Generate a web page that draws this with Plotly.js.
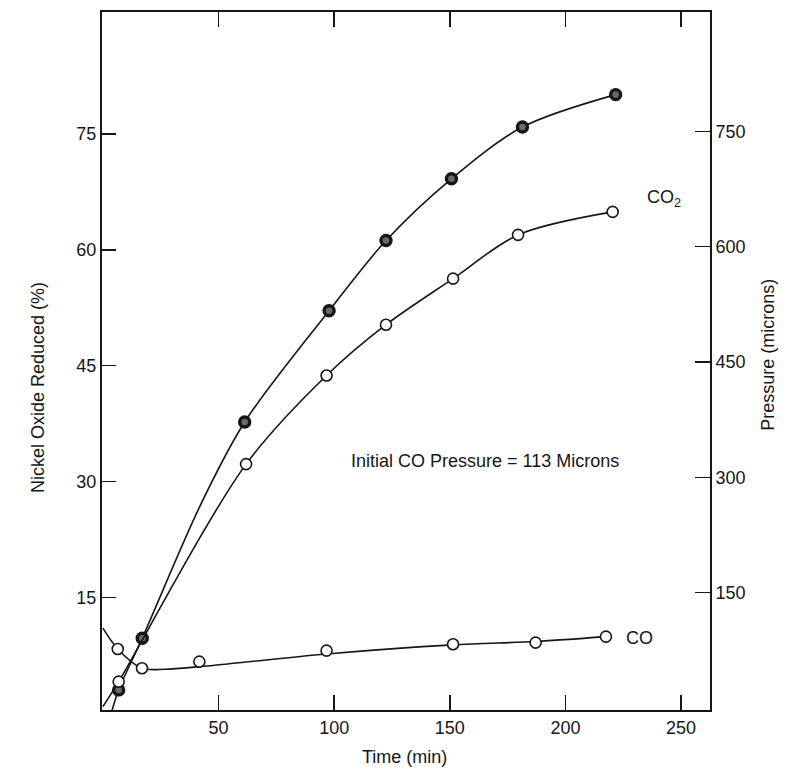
<!DOCTYPE html>
<html>
<head>
<meta charset="utf-8">
<script src="https://cdn.plot.ly/plotly-3.0.1.min.js"></script>
<style>html,body{margin:0;padding:0;background:#fff;}#chart{width:789px;height:775px;}</style>
</head>
<body>
<div id="chart"></div>
<script>
// Nickel oxide reduced (%) - filled points (left axis)
const niTime = [6.8, 17.0, 61.3, 97.8, 122.4, 150.7, 181.4, 221.7];
const niReduced = [3.0, 9.7, 37.7, 52.1, 61.2, 69.2, 75.9, 80.1];
// fitted curve through NiO points
const niCurveTime = [3.9, 6.8, 17.0, 42.1, 61.3, 97.8, 122.4, 150.7, 181.4, 221.7];
const niCurveVal  = [0.3, 3.0, 9.7, 26.9, 37.7, 52.1, 61.2, 69.2, 75.9, 80.1];

// CO2 pressure (microns) - open points (right axis)
const co2Time = [6.8, 61.9, 96.7, 122.4, 151.4, 179.5, 220.4];
const co2Pressure = [34.2, 317.1, 432.4, 498.4, 558.3, 615.2, 645.1];
const co2CurveTime = [0.0, 6.8, 61.9, 96.7, 122.4, 151.4, 179.5, 220.4];
const co2CurveVal  = [1.6, 34.2, 317.1, 432.4, 498.4, 558.3, 615.2, 645.1];

// CO pressure (microns) - open points (right axis)
const coTime = [6.4, 16.9, 41.7, 96.7, 151.4, 187.1, 217.5];
const coPressure = [76.7, 51.6, 60.2, 74.5, 82.8, 84.9, 92.7];
const coCurveTime = [0.0, 6.4, 16.9, 27.0, 42.1, 96.7, 151.4, 187.1, 217.5];
const coCurveVal  = [103.7, 76.7, 51.6, 50.3, 53.7, 70.2, 82.0, 86.4, 92.7];

const xTicks = [50, 100, 150, 200, 250];
const yLeftTicks = [15, 30, 45, 60, 75];
const yRightTicks = [150, 300, 450, 600, 750];

const FONT = 'Liberation Sans, Arial, Helvetica, sans-serif';
const INK = '#161616';

const lineStyle = {color: INK, width: 1.6, shape: 'spline', smoothing: 0.9};

const traces = [
  {x: niCurveTime, y: niCurveVal, mode: 'lines', line: lineStyle, yaxis: 'y', hoverinfo: 'skip'},
  {x: co2CurveTime, y: co2CurveVal, mode: 'lines', line: lineStyle, yaxis: 'y2', hoverinfo: 'skip'},
  {x: coCurveTime, y: coCurveVal, mode: 'lines', line: lineStyle, yaxis: 'y2', hoverinfo: 'skip'},
  {x: co2Time, y: co2Pressure, mode: 'markers', yaxis: 'y2',
   marker: {symbol: 'circle', size: 11, color: '#ffffff', line: {color: INK, width: 1.6}}},
  {x: coTime, y: coPressure, mode: 'markers', yaxis: 'y2',
   marker: {symbol: 'circle', size: 11, color: '#ffffff', line: {color: INK, width: 1.6}}},
  {x: niTime, y: niReduced, mode: 'markers', yaxis: 'y',
   marker: {symbol: 'circle', size: 10, color: '#6a6a6a', line: {color: INK, width: 3.4}}}
];

const tickFont = {family: FONT, size: 18, color: INK};

const layout = {
  width: 789, height: 775,
  margin: {l: 102, r: 79, t: 12, b: 65},
  paper_bgcolor: '#ffffff', plot_bgcolor: '#ffffff',
  showlegend: false,
  xaxis: {
    range: [-0.4, 262.5], tickvals: xTicks, ticktext: xTicks.map(String),
    ticks: 'inside', ticklen: 15, tickwidth: 1.5, tickcolor: INK,
    showline: true, linewidth: 2, linecolor: INK, mirror: 'ticks',
    showgrid: false, zeroline: false, tickfont: tickFont
  },
  yaxis: {
    range: [0.4, 90.8], tickvals: yLeftTicks, ticktext: yLeftTicks.map(String),
    ticks: 'inside', ticklen: 14, tickwidth: 1.5, tickcolor: INK,
    showline: true, linewidth: 2, linecolor: INK,
    showgrid: false, zeroline: false, tickfont: tickFont
  },
  yaxis2: {
    overlaying: 'y', side: 'right',
    range: [-2.7, 905.1], tickvals: yRightTicks, ticktext: yRightTicks.map(String),
    ticks: 'inside', ticklen: 15, tickwidth: 1.5, tickcolor: INK,
    showline: true, linewidth: 2, linecolor: INK,
    showgrid: false, zeroline: false, tickfont: tickFont
  },
  annotations: [
    {xref: 'paper', yref: 'paper', x: 0.497, y: -0.0674, text: 'Time (min)', showarrow: false,
     xanchor: 'center', yanchor: 'middle', font: {family: FONT, size: 18, color: INK}},
    {xref: 'paper', yref: 'paper', x: -0.105, y: 0.4616, text: 'Nickel Oxide Reduced (%)', showarrow: false,
     textangle: -90, xanchor: 'center', yanchor: 'middle', font: {family: FONT, size: 18, color: INK}},
    {xref: 'paper', yref: 'paper', x: 1.0954, y: 0.509, text: 'Pressure (microns)', showarrow: false,
     textangle: -90, xanchor: 'center', yanchor: 'middle', font: {family: FONT, size: 18, color: INK}},
    {xref: 'x', yref: 'y', x: 106.2, y: 32.6, text: 'Initial CO Pressure = 113 Microns', showarrow: false,
     xanchor: 'left', yanchor: 'middle', font: {family: FONT, size: 18, color: INK}},
    {xref: 'x', yref: 'y', x: 225.2, y: 9.73, text: 'CO', showarrow: false,
     xanchor: 'left', yanchor: 'middle', font: {family: FONT, size: 18, color: INK}},
    {xref: 'x', yref: 'y', x: 234.5, y: 66.6, text: 'CO<sub>2</sub>', showarrow: false,
     xanchor: 'left', yanchor: 'middle', font: {family: FONT, size: 18, color: INK}}
  ]
};

Plotly.newPlot('chart', traces, layout, {staticPlot: true, displayModeBar: false});
</script>
</body>
</html>
